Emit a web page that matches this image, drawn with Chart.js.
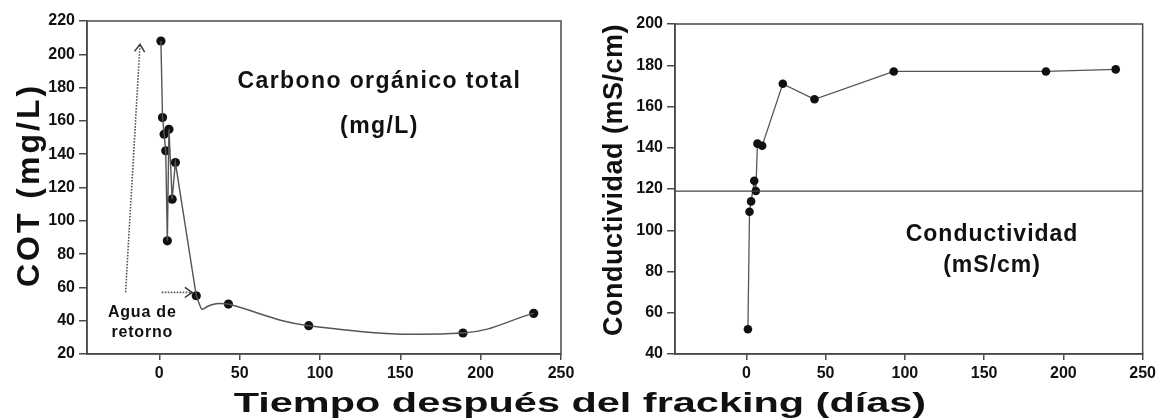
<!DOCTYPE html>
<html><head><meta charset="utf-8">
<script src="https://cdn.jsdelivr.net/npm/chart.js@4"></script>
<style>
html,body{margin:0;padding:0;background:#fff;width:1160px;height:420px;overflow:hidden}
#wrap{position:relative;width:1160px;height:420px}
.box{position:absolute;top:0;width:580px;height:420px}
#xt{position:absolute;left:0;top:386px;width:1160px;text-align:center;font:bold 28px "Liberation Sans",Arial,sans-serif;color:#111;white-space:nowrap;line-height:34px}
#xt span{display:inline-block;transform:scaleX(1.48);transform-origin:center}
</style></head><body>
<div id="wrap">
<div class="box" style="left:0"><canvas id="c1" width="580" height="420"></canvas></div>
<div class="box" style="left:580px"><canvas id="c2" width="580" height="420"></canvas></div>
<div id="xt"><span id="xts"></span></div>
</div>
<script>
// ---- data ----
const cotDays   = [1, 2, 3, 4, 5, 6, 8, 10, 23, 43, 93, 189, 233];
const cotValues = [208, 162, 152, 142, 88, 155, 113, 135, 55, 50, 37, 32.6, 44.4];
const condDays   = [1, 2, 3, 5, 6, 7, 10, 23, 43, 93, 189, 233];
const condValues = [52, 109, 114, 124, 119, 142, 141, 171, 163.5, 177, 177, 178];
const xTickValues = [0, 50, 100, 150, 200, 250];
const cotTickValues = [20, 40, 60, 80, 100, 120, 140, 160, 180, 200, 220];
const condTickValues = [40, 60, 80, 100, 120, 140, 160, 180, 200];
const condRefLine = 119;
const xTitle = 'Tiempo después del fracking (días)';
const cotTitle = 'COT (mg/L)';
const condTitle = 'Conductividad (mS/cm)';
const cotNote = ['Carbono orgánico total', '(mg/L)'];
const condNote = ['Conductividad', '(mS/cm)'];
const returnNote = ['Agua de', 'retorno'];
// arrows (data coordinates)
const arrowUp = [[-21, 57], [-12, 206]];
const arrowRight = [[1.5, 57], [20.5, 57]];

document.getElementById('xts').textContent = xTitle;

const FONT = '"Liberation Sans", Arial, Helvetica, sans-serif';
const AXIS = '#4a4a4a';
const TXT = '#111';
const LINE = '#555';
const NONE = 'rgba(0,0,0,0)';

function pts(xs, ys) { return xs.map((x, i) => ({x, y: ys[i]})); }

function drawText(ctx, str, x, y, size, spacing, rot) {
  ctx.save();
  ctx.font = 'bold ' + size + 'px ' + FONT;
  ctx.fillStyle = TXT;
  ctx.textAlign = 'center';
  ctx.textBaseline = 'middle';
  try { ctx.letterSpacing = (spacing || 0) + 'px'; } catch (e) {}
  ctx.translate(x, y);
  if (rot) ctx.rotate(-Math.PI / 2);
  ctx.fillText(str, 0, 0);
  ctx.restore();
}

function drawArrow(ctx, sx, sy, ex, ey) {
  ctx.save();
  ctx.strokeStyle = '#555';
  ctx.lineWidth = 1.6;
  ctx.setLineDash([1.6, 1.4]);
  ctx.beginPath(); ctx.moveTo(sx, sy); ctx.lineTo(ex, ey); ctx.stroke();
  ctx.setLineDash([]);
  ctx.lineWidth = 1.4;
  ctx.strokeStyle = '#333';
  const a = Math.atan2(ey - sy, ex - sx);
  const L = 9, w = 0.6;
  ctx.beginPath();
  ctx.moveTo(ex - L * Math.cos(a - w), ey - L * Math.sin(a - w));
  ctx.lineTo(ex, ey);
  ctx.lineTo(ex - L * Math.cos(a + w), ey - L * Math.sin(a + w));
  ctx.stroke();
  ctx.restore();
}

const framePlugin = {
  id: 'frame',
  afterDatasetsDraw(chart, args, opts) {
    const {ctx, chartArea: a, scales} = chart;
    const xs = scales.x, ys = scales.y;
    ctx.save();
    ctx.strokeStyle = AXIS;
    ctx.lineWidth = 1.5;
    ctx.strokeRect(a.left, a.top, a.right - a.left, a.bottom - a.top);
    ctx.restore();
    if (opts.refLine != null) {
      const py = ys.getPixelForValue(opts.refLine);
      ctx.save();
      ctx.strokeStyle = '#444'; ctx.lineWidth = 1.3;
      ctx.beginPath(); ctx.moveTo(a.left, py); ctx.lineTo(a.right, py); ctx.stroke();
      ctx.restore();
    }
    (opts.arrows || []).forEach(ar => {
      drawArrow(ctx, xs.getPixelForValue(ar[0][0]), ys.getPixelForValue(ar[0][1]),
                     xs.getPixelForValue(ar[1][0]), ys.getPixelForValue(ar[1][1]));
    });
    (opts.notes || []).forEach(n => {
      drawText(ctx, n.text, xs.getPixelForValue(n.x), ys.getPixelForValue(n.y), n.size, n.spacing, false);
    });
    if (opts.yTitle) drawText(ctx, opts.yTitle.text, opts.yTitle.x, opts.yTitle.y, opts.yTitle.size, opts.yTitle.spacing, true);
  }
};

function axes(xmin, xmax, ymin, ymax, yTicks, yWidth) {
  const tickFont = {family: FONT, size: 16, weight: 'bold'};
  return {
    x: {
      type: 'linear', min: xmin, max: xmax,
      afterBuildTicks: s => { s.ticks = xTickValues.map(v => ({value: v})); },
      afterFit: s => { s.height = 66; },
      grid: {display: true, drawOnChartArea: false, drawTicks: true, tickLength: 6, color: AXIS, lineWidth: 1.5},
      border: {display: true, color: AXIS, width: 1.5},
      ticks: {font: tickFont, color: TXT, padding: 4, maxRotation: 0, autoSkip: false}
    },
    y: {
      type: 'linear', min: ymin, max: ymax,
      afterBuildTicks: s => { s.ticks = yTicks.map(v => ({value: v})); },
      afterFit: s => { s.width = yWidth; },
      grid: {display: true, drawOnChartArea: false, drawTicks: true, tickLength: 8, color: AXIS, lineWidth: 1.5},
      border: {display: true, color: AXIS, width: 1.5},
      ticks: {font: tickFont, color: TXT, padding: 4, autoSkip: false}
    }
  };
}

const common = {
  responsive: false, animation: false,
  plugins: {legend: {display: false}, tooltip: {enabled: false}, title: {display: false}},
};

// ---- left chart ----
const cotPts = pts(cotDays, cotValues);
const i23 = cotDays.indexOf(23);
const i43 = cotDays.indexOf(43);
const i189 = cotDays.indexOf(189);
new Chart(document.getElementById('c1'), {
  type: 'scatter',
  data: {
    datasets: [
      // early, straight segments up to day 23
      {data: cotPts.slice(0, i23 + 1), showLine: true, tension: 0, borderColor: LINE, borderWidth: 1.4, pointRadius: 0},
      // smooth dip between day 23 and day 43 (only that segment is visible)
      {data: [cotPts[i23 - 1], cotPts[i23], cotPts[i43], cotPts[i189]], showLine: true, tension: 1,
       borderColor: LINE, borderWidth: 1.4, pointRadius: 0,
       segment: {borderColor: c => c.p0DataIndex === 1 ? LINE : NONE}},
      // smooth tail from day 43 on
      {data: cotPts.slice(i23), showLine: true, tension: 0.4, borderColor: LINE, borderWidth: 1.4, pointRadius: 0,
       segment: {borderColor: c => c.p0DataIndex === 0 ? NONE : LINE}},
      {data: cotPts, showLine: false, pointRadius: 4.6, pointBackgroundColor: '#111', pointBorderWidth: 0}
    ]
  },
  options: Object.assign({}, common, {
    layout: {padding: {top: 21, right: 19, left: 0, bottom: 0}},
    scales: axes(-45, 250, 20, 220, cotTickValues, 87),
    plugins: Object.assign({}, common.plugins, {
      frame: {
        arrows: [arrowUp, arrowRight],
        notes: [
          {text: cotNote[0], x: 137, y: 183.4, size: 23, spacing: 1.4},
          {text: cotNote[1], x: 137, y: 156.5, size: 23, spacing: 1.4},
          {text: returnNote[0], x: -10.6, y: 44.6, size: 16, spacing: 0.8},
          {text: returnNote[1], x: -10.6, y: 32.6, size: 16, spacing: 0.8}
        ],
        yTitle: {text: cotTitle, x: 30, y: 185, size: 32, spacing: 3}
      }
    })
  }),
  plugins: [framePlugin]
});

// ---- right chart ----
new Chart(document.getElementById('c2'), {
  type: 'scatter',
  data: {
    datasets: [
      {data: pts(condDays, condValues), showLine: true, tension: 0, borderColor: LINE, borderWidth: 1.3,
       pointRadius: 4.3, pointBackgroundColor: '#111', pointBorderWidth: 0}
    ]
  },
  options: Object.assign({}, common, {
    layout: {padding: {top: 24, right: 15, left: 0, bottom: 0}},
    scales: axes(-45, 250, 40, 200, condTickValues, 95),
    plugins: Object.assign({}, common.plugins, {
      frame: {
        refLine: condRefLine,
        notes: [
          {text: condNote[0], x: 155, y: 97.7, size: 23, spacing: 1},
          {text: condNote[1], x: 155, y: 83, size: 23, spacing: 1}
        ],
        yTitle: {text: condTitle, x: 35, y: 180, size: 27, spacing: 0.5}
      }
    })
  }),
  plugins: [framePlugin]
});
</script>
</body></html>
